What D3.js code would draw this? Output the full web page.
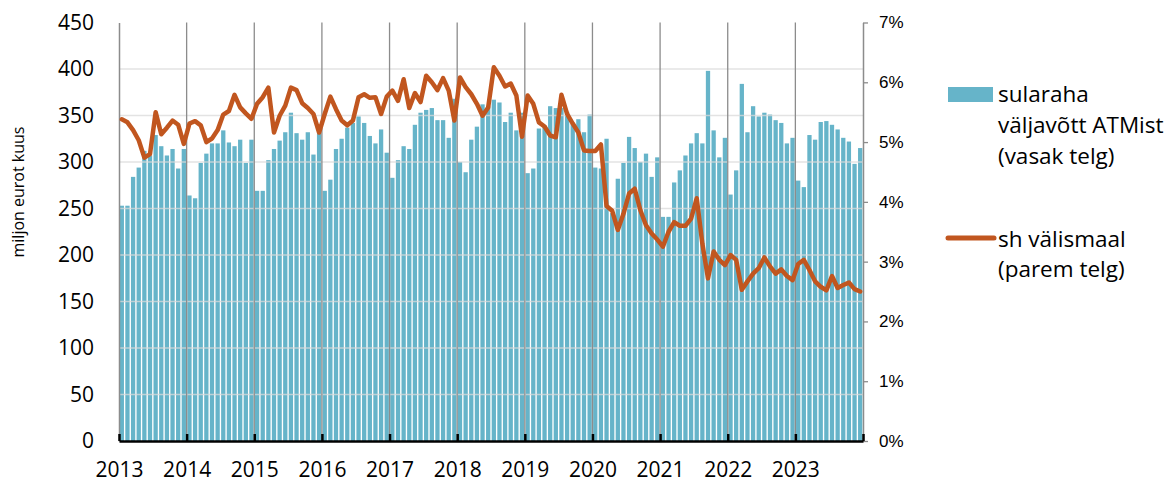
<!DOCTYPE html>
<html>
<head>
<meta charset="utf-8">
<script src="https://cdn.jsdelivr.net/npm/d3@7"></script>
<style>
  body { margin: 0; background: #fff; }
  svg { display: block; }
</style>
</head>
<body>
<svg id="chart"></svg>
<script>
// years shown on the x axis
const years = [2013, 2014, 2015, 2016, 2017, 2018, 2019, 2020, 2021, 2022, 2023];

// sularaha väljavõtt ATMist, miljon eurot kuus (left axis)
const atm2013 = [253, 253, 284, 294, 312, 307, 329, 317, 307, 314, 293, 314];
const atm2014 = [264, 261, 299, 309, 320, 320, 334, 321, 317, 324, 299, 324];
const atm2015 = [269, 269, 302, 314, 323, 332, 353, 331, 324, 332, 308, 331];
const atm2016 = [269, 281, 314, 325, 337, 342, 349, 342, 328, 320, 335, 310];
const atm2017 = [283, 302, 317, 314, 340, 353, 356, 358, 345, 345, 326, 368];
const atm2018 = [300, 289, 324, 338, 362, 360, 367, 364, 343, 353, 334, 353];
const atm2019 = [288, 293, 336, 339, 360, 358, 358, 354, 341, 346, 332, 351];
const atm2020 = [294, 293, 325, 245, 282, 299, 327, 315, 300, 309, 284, 305];
const atm2021 = [241, 241, 278, 291, 307, 320, 331, 320, 398, 334, 305, 326];
const atm2022 = [265, 291, 384, 332, 360, 349, 353, 351, 345, 342, 320, 326];
const atm2023 = [280, 273, 329, 324, 343, 344, 340, 335, 326, 322, 298, 315];

// sh välismaal, % (right axis)
const abroad2013 = [5.38, 5.33, 5.20, 5.03, 4.74, 4.80, 5.50, 5.13, 5.24, 5.36, 5.29, 4.97];
const abroad2014 = [5.31, 5.35, 5.28, 5.00, 5.06, 5.20, 5.46, 5.52, 5.79, 5.58, 5.48, 5.39];
const abroad2015 = [5.64, 5.75, 5.91, 5.16, 5.44, 5.61, 5.91, 5.87, 5.65, 5.57, 5.47, 5.16];
const abroad2016 = [5.47, 5.76, 5.55, 5.36, 5.28, 5.36, 5.75, 5.80, 5.74, 5.75, 5.47, 5.76];
const abroad2017 = [5.86, 5.69, 6.05, 5.57, 5.82, 5.67, 6.11, 6.00, 5.87, 6.07, 5.86, 5.36];
const abroad2018 = [6.08, 5.92, 5.80, 5.64, 5.44, 5.58, 6.25, 6.11, 5.93, 5.98, 5.78, 5.09];
const abroad2019 = [5.78, 5.64, 5.33, 5.26, 5.11, 5.08, 5.79, 5.47, 5.31, 5.16, 4.86, 4.85];
const abroad2020 = [4.85, 4.96, 3.93, 3.85, 3.53, 3.80, 4.14, 4.22, 3.86, 3.61, 3.47, 3.37];
const abroad2021 = [3.25, 3.50, 3.66, 3.60, 3.60, 3.72, 4.06, 3.30, 2.72, 3.17, 3.03, 2.94];
const abroad2022 = [3.11, 3.03, 2.53, 2.67, 2.80, 2.89, 3.07, 2.92, 2.80, 2.87, 2.76, 2.69];
const abroad2023 = [2.96, 3.03, 2.86, 2.67, 2.58, 2.52, 2.76, 2.56, 2.61, 2.65, 2.54, 2.50];

const leftTicks = [0, 50, 100, 150, 200, 250, 300, 350, 400, 450];
const rightTicks = [0, 1, 2, 3, 4, 5, 6, 7];
const barLabel = ["sularaha", "väljavõtt ATMist", "(vasak telg)"];
const lineLabel = ["sh välismaal", "(parem telg)"];
const yTitle = "miljon eurot kuus";

const atmAll = [atm2013, atm2014, atm2015, atm2016, atm2017, atm2018, atm2019, atm2020, atm2021, atm2022, atm2023];
const abroadAll = [abroad2013, abroad2014, abroad2015, abroad2016, abroad2017, abroad2018, abroad2019, abroad2020, abroad2021, abroad2022, abroad2023];

// one row per month
const data = [];
years.forEach((y, i) => {
    atmAll[i].forEach((v, m) => {
        data.push({ key: y + "-" + (m + 1), atm: v, abroad: abroadAll[i][m] });
    });
});

const config = {
    width: 1171,
    height: 484,
    margin: { top: 22.5, right: 308, bottom: 43, left: 119 },
    barColor: "#66b4c9",
    lineColor: "#c1561f",
    font: "'Open Sans', 'Noto Sans', sans-serif"
};
const innerW = config.width - config.margin.left - config.margin.right;
const innerH = config.height - config.margin.top - config.margin.bottom;

const svg = d3.select("#chart")
    .attr("width", config.width)
    .attr("height", config.height);

const chart = svg.append("g")
    .attr("transform", `translate(${config.margin.left}, ${config.margin.top})`);

const xBand = d3.scaleBand()
    .domain(data.map(d => d.key))
    .range([0, innerW])
    .paddingInner(0.24)
    .paddingOuter(0.12);

const xYear = d3.scaleLinear()
    .domain([2013, 2024])
    .range([0, innerW]);

const yLeft = d3.scaleLinear()
    .domain([0, 450])
    .range([innerH, 0]);

const yRight = d3.scaleLinear()
    .domain([0, 7])
    .range([innerH, 0]);

// bars
chart.append("g")
    .selectAll("rect")
    .data(data)
    .join("rect")
    .attr("x", d => xBand(d.key))
    .attr("y", d => yLeft(d.atm))
    .attr("width", xBand.bandwidth())
    .attr("height", d => innerH - yLeft(d.atm))
    .attr("fill", config.barColor);

// horizontal gridlines (light, drawn over bars like the original)
chart.append("g")
    .selectAll("line")
    .data(leftTicks.filter(t => t > 0 && t < 450))
    .join("line")
    .attr("x1", 0)
    .attr("x2", innerW)
    .attr("y1", d => yLeft(d))
    .attr("y2", d => yLeft(d))
    .attr("stroke", "#d9d9d9")
    .attr("stroke-opacity", 0.75)
    .attr("stroke-width", 1.5);

// vertical year lines
chart.append("g")
    .selectAll("line")
    .data(years.slice(1))
    .join("line")
    .attr("x1", d => xYear(d))
    .attr("x2", d => xYear(d))
    .attr("y1", 0)
    .attr("y2", innerH)
    .attr("stroke", "#8c8c8c")
    .attr("stroke-width", 1.3);

// left axis
const yAxisL = chart.append("g")
    .call(d3.axisLeft(yLeft).tickValues(leftTicks).tickSize(0).tickPadding(25));
yAxisL.select(".domain").attr("stroke", "#8c8c8c").attr("stroke-width", 1.5);
yAxisL.selectAll("text")
    .style("font-family", config.font)
    .style("font-size", "21px")
    .attr("fill", "#000");

// right axis
const yAxisR = chart.append("g")
    .attr("transform", `translate(${innerW}, 0)`)
    .call(d3.axisRight(yRight).tickValues(rightTicks).tickSizeInner(5).tickSizeOuter(0)
        .tickPadding(11).tickFormat(d => d + "%"));
yAxisR.select(".domain").attr("stroke", "#8c8c8c").attr("stroke-width", 1.5);
yAxisR.selectAll(".tick line").attr("stroke", "#8c8c8c").attr("stroke-width", 1.3);
yAxisR.selectAll("text")
    .style("font-family", "'Liberation Sans', Arial, sans-serif")
    .style("font-size", "17px")
    .attr("fill", "#000");

// line series
const line = d3.line()
    .x(d => xBand(d.key) + xBand.bandwidth() / 2)
    .y(d => yRight(d.abroad));

chart.append("path")
    .datum(data)
    .attr("d", line)
    .attr("fill", "none")
    .attr("stroke", config.lineColor)
    .attr("stroke-width", 4.5)
    .attr("stroke-linejoin", "round")
    .attr("stroke-linecap", "round");

// x axis
const xAxis = chart.append("g")
    .attr("transform", `translate(0, ${innerH})`)
    .call(d3.axisBottom(xYear)
        .tickValues(years.concat([2024]))
        .tickSizeInner(-7)
        .tickSizeOuter(0)
        .tickPadding(21)
        .tickFormat(d => d === 2024 ? "" : d));
xAxis.select(".domain").attr("stroke", "#000").attr("stroke-width", 2.5);
xAxis.selectAll(".tick line").attr("stroke", "#000").attr("stroke-width", 2.5);
xAxis.selectAll("text")
    .style("font-family", config.font)
    .style("font-size", "21px")
    .attr("fill", "#000");

// y axis title
svg.append("text")
    .attr("transform", "translate(24, 192) rotate(-90)")
    .attr("text-anchor", "middle")
    .style("font-family", config.font)
    .style("font-size", "16px")
    .text(yTitle);

// legend
const legend = svg.append("g");
legend.append("rect")
    .attr("x", 948)
    .attr("y", 87)
    .attr("width", 45)
    .attr("height", 15)
    .attr("fill", config.barColor);
legend.append("text")
    .attr("x", 998)
    .attr("y", 102)
    .style("font-family", config.font)
    .style("font-size", "22.5px")
    .selectAll("tspan")
    .data(barLabel)
    .join("tspan")
    .attr("x", 998)
    .attr("dy", (d, i) => i === 0 ? 0 : 31)
    .text(d => d);

legend.append("line")
    .attr("x1", 948)
    .attr("x2", 994)
    .attr("y1", 238)
    .attr("y2", 238)
    .attr("stroke", config.lineColor)
    .attr("stroke-width", 5)
    .attr("stroke-linecap", "round");
legend.append("text")
    .attr("x", 998)
    .attr("y", 247)
    .style("font-family", config.font)
    .style("font-size", "22.5px")
    .selectAll("tspan")
    .data(lineLabel)
    .join("tspan")
    .attr("x", 998)
    .attr("dy", (d, i) => i === 0 ? 0 : 30)
    .text(d => d);
</script>
</body>
</html>
